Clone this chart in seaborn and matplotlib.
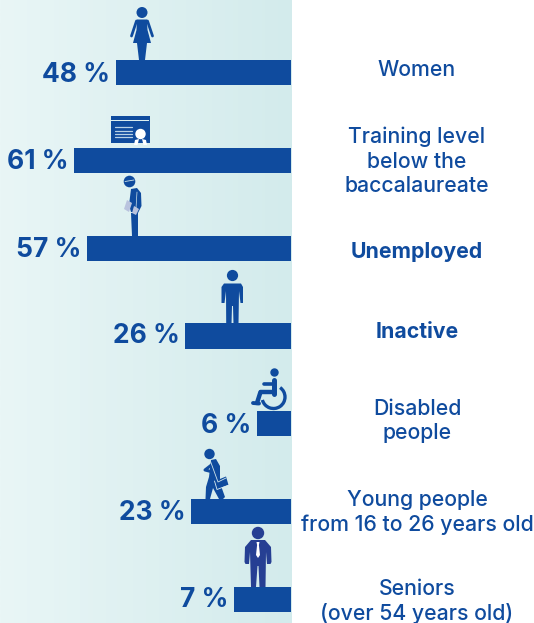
import numpy as np
import pandas as pd
import matplotlib
matplotlib.use("Agg")
import matplotlib.pyplot as plt
from matplotlib.patches import Circle, Polygon, Rectangle, Arc
import seaborn as sns

categories = ["Women", "Training level\nbelow the\nbaccalaureate", "Unemployed", "Inactive",
              "Disabled\npeople", "Young people\nfrom 16 to 26 years old", "Seniors\n(over 54 years old)"]
percent_labels = ["48 %", "61 %", "57 %", "26 %", "6 %", "23 %", "7 %"]
# drawn bar lengths, as measured on the picture (the original is not to a strict scale)
bar_lengths = [175, 217, 204, 106, 34, 100, 57]
bold_categories = ["Unemployed", "Inactive"]
label_shift_down = [-3, 1, 4, -4, -3, 1, 2]
percent_shift_down = [3, 1.5, 2, 0.5, 2, 1, 0.5]

BLUE = "#0f4b9e"
W, H = 534, 623
sns.set_theme(style="white")
plt.rcParams["font.family"] = ["Inter", "DejaVu Sans"]

fig = plt.figure(figsize=(W / 100, H / 100), dpi=100)
fig.patch.set_facecolor("white")

# background + icons layer in pixel coordinates
bg = fig.add_axes([0, 0, 1, 1], zorder=0)
bg.set_xlim(0, W); bg.set_ylim(H, 0); bg.axis("off")
grad = np.linspace(0, 1, 256)[None, :, None]
c0, c1 = np.array([0xE9, 0xF6, 0xF6]) / 255, np.array([0xD3, 0xEB, 0xEC]) / 255
bg.imshow(c0 + (c1 - c0) * grad, extent=(0, 291.5, H, 0), aspect="auto", zorder=0)
bg.set_xlim(0, W); bg.set_ylim(H, 0)

# bars
df = pd.DataFrame({"category": categories, "length": bar_lengths})
ax = fig.add_axes([0, 0, 1, 1], zorder=1)
ax.patch.set_alpha(0)
sns.barplot(data=df, y="category", x="length", orient="h", color=BLUE, saturation=1,
            width=0.285, linewidth=0, edgecolor="none", ax=ax)
ax.set_xlim(291, 291 - W)
step = 87.83
ax.set_ylim((H - 72.5) / step, -72.5 / step)
ax.axis("off")

for i, (cat, lab, ln) in enumerate(zip(categories, percent_labels, bar_lengths)):
    ax.annotate(lab, (ln, i), xytext=(-5.5, -percent_shift_down[i]), textcoords="offset pixels",
                ha="right", va="center", fontsize=19, fontweight="bold", color=BLUE)
    ax.annotate(cat, (291 - 417, i), xytext=(0, -label_shift_down[i]),
                textcoords="offset pixels", ha="center", va="center", linespacing=1.27,
                fontsize=15.3, fontweight="bold" if cat in bold_categories else "medium", color=BLUE)

def icon_line(pts, lw, color=BLUE):
    xs, ys = zip(*pts)
    ov.plot(xs, ys, color=color, lw=lw, solid_capstyle="round", solid_joinstyle="round")

ov = fig.add_axes([0, 0, 1, 1], zorder=2)
ov.patch.set_alpha(0)
ov.set_xlim(0, W); ov.set_ylim(H, 0); ov.axis("off")
P = lambda pts, c=BLUE, **k: ov.add_patch(Polygon(pts, closed=True, fc=c, ec="none", **k))
C = lambda x, y, r, c=BLUE: ov.add_patch(Circle((x, y), r, fc=c, ec="none"))

# woman
C(142, 12.5, 5.5)
P([(137, 19.5), (147, 19.5), (147.5, 30), (151, 43), (133, 43), (136.5, 30)])
icon_line([(136.5, 21), (131.5, 36)], 2.0)
icon_line([(147.5, 21), (152.5, 36)], 2.0)
P([(137, 43), (147, 43), (145, 60), (139, 60)])

# certificate
ov.add_patch(Rectangle((110.5, 116), 39, 27, fc=BLUE, ec="none"))
ov.add_patch(Rectangle((111, 119.5), 38, 1.5, fc="#dceef0", ec="none"))
for y, x1 in [(127, 132), (130.5, 132), (134, 132), (137, 132)]:
    ov.plot([114.5, x1], [y, y], color="#b9d2e6", lw=0.9)
C(140.5, 134, 5.2, "white")
P([(135, 140), (139, 139), (137.5, 145), (134, 145)], "white")
P([(142, 139), (146, 140), (147, 145), (143.5, 145)], "white")

# unemployed
C(129.5, 181.5, 5.8)
ov.plot([125, 134], [181.5, 180], color="#cfe4ea", lw=0.6)
P([(131, 189), (137, 188), (141, 193), (141.5, 206), (138, 213), (131, 212), (129, 205)])
P([(130.5, 213), (137.5, 213), (137.5, 236), (132, 236)])
P([(127, 200), (132, 203), (129, 212), (124, 209)], "#b9c3de")
P([(134, 206), (139, 209), (136, 215), (132, 213)], "#b9c3de")
ov.plot([137, 136], [192, 208], color="#cfe4ea", lw=0.5)

# inactive
C(232.5, 275.5, 5.6)
P([(224, 283.5), (241, 283.5), (243, 287), (243, 303), (240.5, 303), (239, 291), (238.5, 324),
   (233.5, 324), (233, 306), (232, 306), (231.5, 324), (226.2, 324), (226, 291), (224.5, 303), (221.5, 303), (221.5, 287)])

# wheelchair
C(274.5, 372.5, 4.2)
icon_line([(274, 379.5), (274, 394)], 3.6)
icon_line([(264, 384), (274, 384)], 2.6)
icon_line([(260.5, 392), (274, 392)], 3.2)
icon_line([(260.5, 392), (257, 403)], 3.2)
icon_line([(253, 403), (259, 403.5)], 2.8)
ov.add_patch(Arc((273.5, 397), 23, 23, theta1=-55, theta2=165, ec=BLUE, lw=2.4))

# young walker
C(209.5, 454, 5.2)
P([(211, 460), (216, 459), (220, 466), (220, 483), (225, 497), (223, 499), (219, 499), (213, 488), (210, 499), (205.5, 499), (206, 487), (209, 477)])
icon_line([(214, 463), (205, 470), (213, 472)], 2.2)
ov.plot([210, 218, 226], [460, 482, 478], color="#cfe4ea", lw=0.6)
P([(215, 481), (226, 476.5), (228.5, 485), (217, 489)])
ov.plot([214.5, 217, 229], [481, 489.5, 485], color="#dceef0", lw=0.6)

# senior
C(258, 533, 6.2, "#263f93")
P([(251, 540), (265, 540), (271, 547), (271.5, 562), (270.5, 564), (267, 564), (266, 552), (265.5, 587),
   (259.5, 587), (258.5, 566), (257.5, 566), (256, 587), (251, 587), (250, 552), (249, 564), (245.5, 564), (244.5, 562), (245, 547)], "#263f93")
P([(256.5, 542), (259.5, 542), (258.9, 545), (260, 555), (258, 558), (256, 555), (257.1, 545)], "white")

fig.savefig("out.png", dpi=100, facecolor="white")
